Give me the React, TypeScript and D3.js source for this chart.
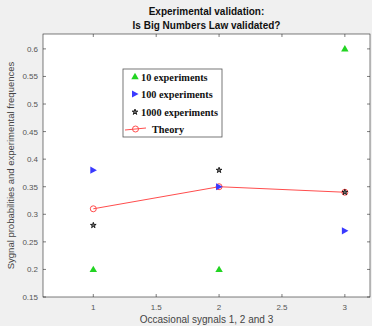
import { useEffect, useRef } from 'react';
import * as d3 from 'd3';

const signals = [1, 2, 3];
const exp10 = [0.2, 0.2, 0.6];
const exp100 = [0.38, 0.35, 0.27];
const exp1000 = [0.28, 0.38, 0.34];
const theory = [0.31, 0.35, 0.34];
const xTicks = [1, 1.5, 2, 2.5, 3];
const yTicks = [0.15, 0.2, 0.25, 0.3, 0.35, 0.4, 0.45, 0.5, 0.55, 0.6];
const legendLabels = ['10 experiments', '100 experiments', '1000 experiments', 'Theory'];

const W = 372;
const H = 326;
const M = { left: 43, right: 2, top: 34, bottom: 29 };

export default function App() {
  const svgRef = useRef<SVGSVGElement>(null);

  useEffect(() => {
    if (!svgRef.current) return;
    const svg = d3.select(svgRef.current);
    svg.selectAll('*').remove();

    const x = d3.scaleLinear().domain([0.6, 3.2]).range([M.left, W - M.right]);
    const y = d3.scaleLinear().domain([0.15, 0.627]).range([H - M.bottom, M.top]);

    svg.append('rect').attr('width', W).attr('height', H).attr('fill', '#f0f0f0');

    const pw = W - M.right - M.left;
    const ph = H - M.bottom - M.top;
    svg.append('rect')
      .attr('x', M.left).attr('y', M.top)
      .attr('width', pw).attr('height', ph)
      .attr('fill', '#fff').attr('stroke', '#262626').attr('stroke-width', 0.6);

    // ticks (inward, on all four sides)
    const g = svg.append('g').attr('stroke', '#262626').attr('stroke-width', 0.6);
    xTicks.forEach(t => {
      g.append('line').attr('x1', x(t)).attr('x2', x(t)).attr('y1', H - M.bottom).attr('y2', H - M.bottom - 3);
      g.append('line').attr('x1', x(t)).attr('x2', x(t)).attr('y1', M.top).attr('y2', M.top + 3);
    });
    yTicks.forEach(t => {
      g.append('line').attr('x1', M.left).attr('x2', M.left + 3).attr('y1', y(t)).attr('y2', y(t));
      g.append('line').attr('x1', W - M.right).attr('x2', W - M.right - 3).attr('y1', y(t)).attr('y2', y(t));
    });

    const font = 'Helvetica, Arial, "Liberation Sans", sans-serif';
    svg.append('g').selectAll('text').data(xTicks).enter().append('text')
      .attr('x', d => x(d)).attr('y', H - M.bottom + 13)
      .attr('text-anchor', 'middle').attr('font-family', font).attr('font-size', 8)
      .attr('fill', '#555').text(d => String(d));
    svg.append('g').selectAll('text').data(yTicks).enter().append('text')
      .attr('x', M.left - 5).attr('y', d => y(d) + 3)
      .attr('text-anchor', 'end').attr('font-family', font).attr('font-size', 8)
      .attr('fill', '#555').text(d => String(d));

    svg.append('text')
      .attr('x', M.left + pw / 2).attr('y', H - 3)
      .attr('text-anchor', 'middle').attr('font-family', font).attr('font-size', 10)
      .attr('fill', '#444').text('Occasional sygnals 1, 2 and 3');
    svg.append('text')
      .attr('transform', `translate(14,${M.top + ph / 2}) rotate(-90)`)
      .attr('text-anchor', 'middle').attr('font-family', font).attr('font-size', 9.5)
      .attr('fill', '#444').text('Sygnal probabilities and experimental frequences');

    const title = svg.append('text').attr('text-anchor', 'middle').attr('font-family', font)
      .attr('font-size', 10).attr('font-weight', 'bold').attr('fill', '#111');
    title.append('tspan').attr('x', M.left + pw / 2).attr('y', 15).text('Experimental validation:');
    title.append('tspan').attr('x', M.left + pw / 2).attr('y', 29).text('Is Big Numbers Law validated?');

    const tri = d3.symbol().type(d3.symbolTriangle).size(24);
    const star = d3.symbol().type(d3.symbolStar).size(10);
    const right = 'M-3,-3.6L3.6,0L-3,3.6Z';

    // theory line
    const line = d3.line<number>().x((_, i) => x(signals[i])).y(d => y(d));
    svg.append('path').datum(theory).attr('d', line).attr('fill', 'none')
      .attr('stroke', '#ff4d4d').attr('stroke-width', 1);
    svg.append('g').selectAll('circle').data(theory).enter().append('circle')
      .attr('cx', (_, i) => x(signals[i])).attr('cy', d => y(d)).attr('r', 3)
      .attr('fill', 'none').attr('stroke', '#ff4d4d').attr('stroke-width', 1);

    svg.append('g').selectAll('path').data(exp10).enter().append('path')
      .attr('d', tri).attr('transform', (d, i) => `translate(${x(signals[i])},${y(d) + 0.5})`)
      .attr('fill', '#22d422');
    svg.append('g').selectAll('path').data(exp100).enter().append('path')
      .attr('d', right).attr('transform', (d, i) => `translate(${x(signals[i])},${y(d)})`)
      .attr('fill', '#3a3aff');
    svg.append('g').selectAll('path').data(exp1000).enter().append('path')
      .attr('d', star).attr('transform', (d, i) => `translate(${x(signals[i])},${y(d)})`)
      .attr('fill', '#777').attr('stroke', '#000').attr('stroke-width', 0.8);

    // legend
    const lg = svg.append('g');
    lg.append('rect').attr('x', 123).attr('y', 69).attr('width', 99).attr('height', 68)
      .attr('fill', '#fff').attr('stroke', '#555').attr('stroke-width', 0.8);
    const ly = [77, 94, 112, 129];
    lg.append('path').attr('d', tri).attr('transform', `translate(135,${ly[0]})`).attr('fill', '#22d422');
    lg.append('path').attr('d', right).attr('transform', `translate(135,${ly[1]})`).attr('fill', '#3a3aff');
    lg.append('path').attr('d', star).attr('transform', `translate(135,${ly[2]})`)
      .attr('fill', '#777').attr('stroke', '#000').attr('stroke-width', 0.8);
    lg.append('line').attr('x1', 125).attr('x2', 146).attr('y1', ly[3] + 1).attr('y2', ly[3] - 1)
      .attr('stroke', '#ff4d4d');
    lg.append('circle').attr('cx', 135.5).attr('cy', ly[3]).attr('r', 3)
      .attr('fill', 'none').attr('stroke', '#ff4d4d');
    lg.selectAll('text.l').data(legendLabels).enter().append('text')
      .attr('x', (_, i) => (i === 3 ? 152 : 141)).attr('y', (_, i) => ly[i] + 3.5)
      .attr('font-family', '"Liberation Serif", "Times New Roman", serif')
      .attr('font-size', 10.3).attr('font-weight', 'bold').attr('fill', '#111')
      .text(d => d);
  }, []);

  return (
    <svg ref={svgRef} width={W} height={H}
      style={{ position: 'absolute', left: 0, top: 0, display: 'block' }} />
  );
}
